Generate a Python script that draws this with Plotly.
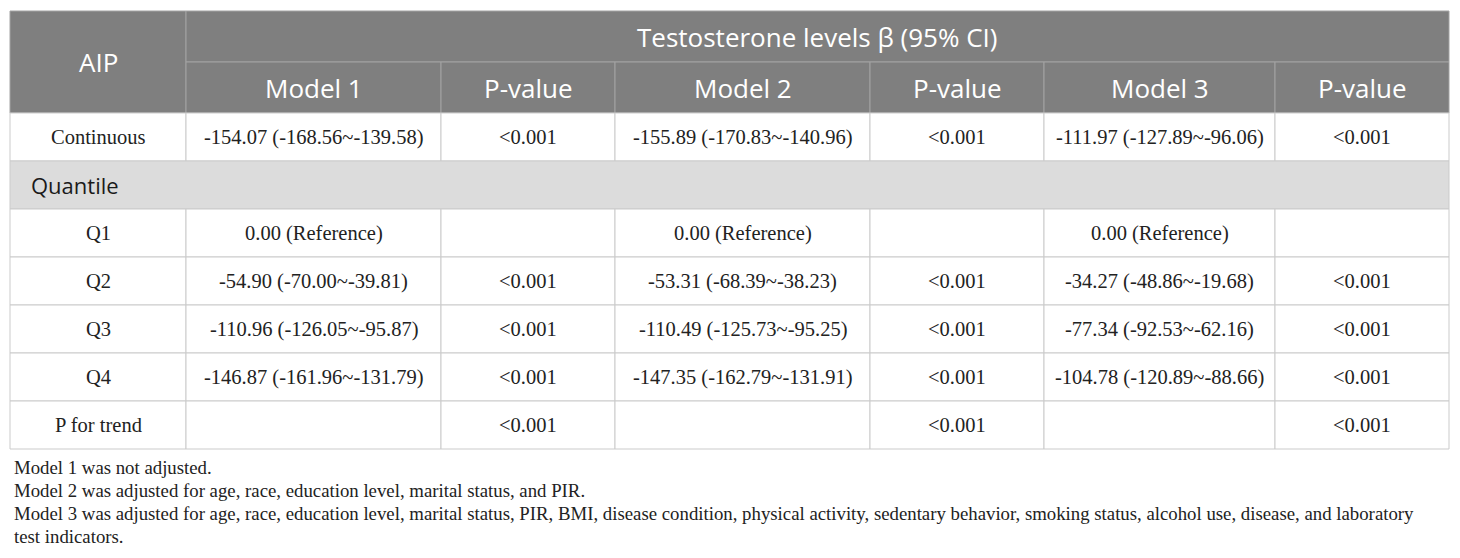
import plotly.graph_objects as go

# ---- table content ----
row_labels = ["Continuous", "Q1", "Q2", "Q3", "Q4", "P for trend"]
group_label = "Quantile"

# beta and 95% CI bounds per model (None = reference / not reported)
m1_beta = [-154.07, 0.00, -54.90, -110.96, -146.87, None]
m1_lo = [-168.56, None, -70.00, -126.05, -161.96, None]
m1_hi = [-139.58, None, -39.81, -95.87, -131.79, None]

m2_beta = [-155.89, 0.00, -53.31, -110.49, -147.35, None]
m2_lo = [-170.83, None, -68.39, -125.73, -162.79, None]
m2_hi = [-140.96, None, -38.23, -95.25, -131.91, None]

m3_beta = [-111.97, 0.00, -34.27, -77.34, -104.78, None]
m3_lo = [-127.89, None, -48.86, -92.53, -120.89, None]
m3_hi = [-96.06, None, -19.68, -62.16, -88.66, None]

m1_p = ["<0.001", "", "<0.001", "<0.001", "<0.001", "<0.001"]
m2_p = ["<0.001", "", "<0.001", "<0.001", "<0.001", "<0.001"]
m3_p = ["<0.001", "", "<0.001", "<0.001", "<0.001", "<0.001"]

first_header = "AIP"
span_header = "Testosterone levels β (95% CI)"
model_names = ["Model 1", "Model 2", "Model 3"]
p_header = "P-value"

footnotes = [
    "Model 1 was not adjusted.",
    "Model 2 was adjusted for age, race, education level, marital status, and PIR.",
    "Model 3 was adjusted for age, race, education level, marital status, PIR, BMI, disease condition, "
    "physical activity, sedentary behavior, smoking status, alcohol use, disease, and laboratory",
    "test indicators.",
]

# ---- geometry / style ----
W, H = 1460, 558
PAGE_PAD = 8          # default body margin of the html page
X0, Y0 = 10, 11
COL_W = [176, 255, 174, 255, 174, 231, 174]
HEAD_H = 51
ROW_H = 48
HEAD_BG = "#7f7f7f"
HEAD_LINE = "#a3a3a3"
GRID = "#cbcbcb"
GROUP_BG = "#dcdcdc"
TEXT = "#222222"
SANS = "Open Sans"
SERIF = "Liberation Serif"

col_x = [X0]
for w in COL_W:
    col_x.append(col_x[-1] + w)


def fmt_ci(b, lo, hi):
    if b is None:
        return ""
    if lo is None:
        return f"{b:.2f} (Reference)"
    return f"{b:.2f} ({lo:.2f}~{hi:.2f})"


def cell(x0, x1, y0, y1, fill, line):
    return dict(type="rect", xref="x", yref="y", x0=x0, x1=x1, y0=y0, y1=y1,
                fillcolor=fill, line=dict(color=line, width=1), layer="below")


def label(x, y, text, font, size, color, anchor="center"):
    return dict(x=x, y=y, xref="x", yref="y", text=text, showarrow=False,
                xanchor=anchor, yanchor="middle",
                font=dict(family=font, size=size, color=color))


shapes, notes = [], []

# header rows
h1, h2, h3 = Y0, Y0 + HEAD_H, Y0 + 2 * HEAD_H
shapes.append(cell(col_x[0], col_x[1], h1, h3, HEAD_BG, HEAD_LINE))
shapes.append(cell(col_x[1], col_x[-1], h1, h2, HEAD_BG, HEAD_LINE))
notes.append(label((col_x[0] + col_x[1]) / 2, (h1 + h3) / 2, first_header, SANS, 26, "white"))
notes.append(label((col_x[1] + col_x[-1]) / 2, (h1 + h2) / 2, span_header, SANS, 26, "white"))
sub_headers = []
for m in model_names:
    sub_headers += [m, p_header]
for i, t in enumerate(sub_headers):
    a, b = col_x[i + 1], col_x[i + 2]
    shapes.append(cell(a, b, h2, h3, HEAD_BG, HEAD_LINE))
    notes.append(label((a + b) / 2, (h2 + h3) / 2, t, SANS, 26, "white"))

# body rows: Continuous, then the Quantile group row, then quartiles and trend
order = [0, "group", 1, 2, 3, 4, 5]
models = [(m1_beta, m1_lo, m1_hi, m1_p), (m2_beta, m2_lo, m2_hi, m2_p), (m3_beta, m3_lo, m3_hi, m3_p)]
y = h3
for r in order:
    ya, yb = y, y + ROW_H
    yc = (ya + yb) / 2
    if r == "group":
        shapes.append(cell(col_x[0], col_x[-1], ya, yb, GROUP_BG, GRID))
        notes.append(label(col_x[0] + 19, yc, group_label, SANS, 22, "#1a1a1a", "left"))
    else:
        texts = [row_labels[r]]
        for beta, lo, hi, p in models:
            texts += [fmt_ci(beta[r], lo[r], hi[r]), p[r]]
        for c, t in enumerate(texts):
            a, b = col_x[c], col_x[c + 1]
            shapes.append(cell(a, b, ya, yb, "white", GRID))
            if t:
                notes.append(label((a + b) / 2, yc, t, SERIF, 20.5, TEXT))
    y = yb

# footnotes under the table
fy = y + 18
for t in footnotes:
    notes.append(label(X0 + 2, fy, t, SERIF, 18.8, TEXT, "left"))
    fy += 23.3

fig = go.Figure()
fig.add_trace(go.Scatter(x=[PAGE_PAD, W - PAGE_PAD], y=[PAGE_PAD, H - PAGE_PAD], mode="markers",
                         marker=dict(opacity=0), hoverinfo="skip", showlegend=False))
fig.update_layout(
    width=W - 2 * PAGE_PAD, height=H - 2 * PAGE_PAD, autosize=False,
    margin=dict(l=0, r=0, t=0, b=0),
    paper_bgcolor="white", plot_bgcolor="white",
    xaxis=dict(range=[PAGE_PAD, W - PAGE_PAD], visible=False, fixedrange=True),
    yaxis=dict(range=[H - PAGE_PAD, PAGE_PAD], visible=False, fixedrange=True),
    shapes=shapes, annotations=notes,
)
fig.write_html("out.html", config={"displayModeBar": False})
